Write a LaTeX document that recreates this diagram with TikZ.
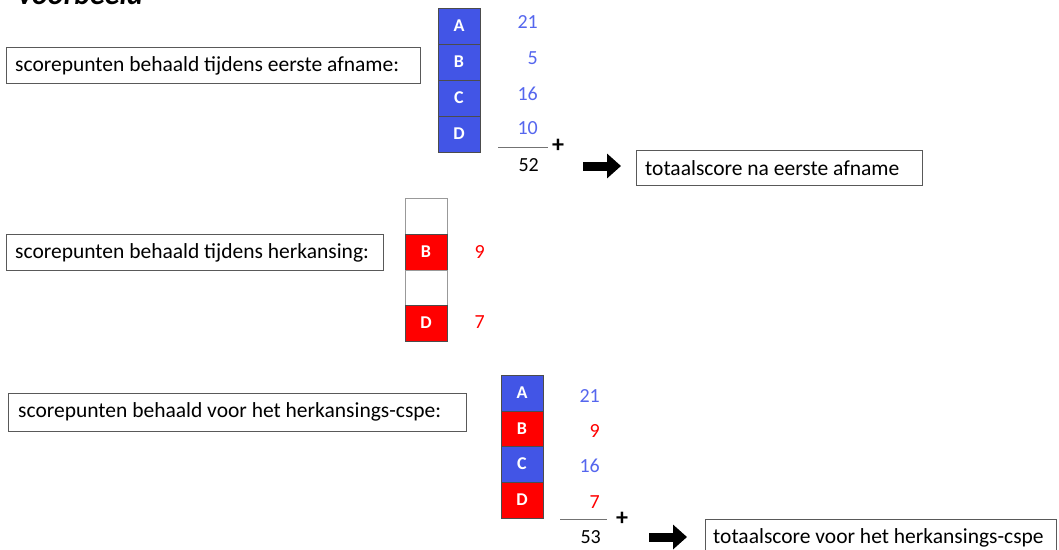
\documentclass[tikz,border=0pt]{standalone}
\usepackage{fontspec}
\setmainfont{Carlito}
\usetikzlibrary{arrows.meta}
\definecolor{cellblue}{HTML}{4255E6}
\definecolor{numblue}{HTML}{5566EE}
\definecolor{cellred}{HTML}{FF0000}
\begin{document}
\begin{tikzpicture}[x=1pt,y=-1pt,
  txt/.style={font=\fontsize{21.5}{24}\selectfont},
  box/.style={draw=black!65, line width=0.9pt, inner sep=0pt, txt},
  boxtext/.style={anchor=west, inner sep=0pt, txt},
  cell/.style={minimum width=42pt, minimum height=36pt, inner sep=0pt, draw=black!70, line width=0.8pt, text=white, font=\bfseries\fontsize{18}{18}\selectfont},
  bluecell/.style={cell, fill=cellblue},
  redcell/.style={cell, fill=cellred},
  emptycell/.style={cell, fill=white, draw=black!40},
  num/.style={anchor=east, inner sep=0pt, font=\fontsize{20}{22}\selectfont},
  plus/.style={inner sep=0pt, font=\bfseries\fontsize{24}{24}\selectfont},
  sumline/.style={draw=black!55, line width=0.8pt},
  bigarrow/.style={line width=9pt, -{Triangle[length=14pt,width=24pt]}}
]
\useasboundingbox (0,0) rectangle (1059,549);
\fill[white] (0,0) rectangle (1059,549);

% title
\node[anchor=base west, inner sep=0pt, font=\bfseries\itshape\fontsize{30}{30}\selectfont] (title) at (18,4) {voorbeeld};

% ---- section 1
\node[box, minimum width=414pt, minimum height=36pt] (b1) at (213,65) {};
\node[boxtext] (b1t) at (15,66) {scorepunten behaald tijdens eerste afname:};
\node[bluecell] (a1) at (459,26) {A};
\node[bluecell] (bb1) at (459,62) {B};
\node[bluecell] (c1) at (459,98) {C};
\node[bluecell] (d1) at (459,134) {D};
\node[num, text=numblue] (n1a) at (538,22) {21};
\node[num, text=numblue] (n1b) at (538,58) {5};
\node[num, text=numblue] (n1c) at (538,94) {16};
\node[num, text=numblue] (n1d) at (538,128) {10};
\coordinate (l1s) at (498,147);
\coordinate (l1e) at (548,147);
\draw[sumline] (l1s) -- (l1e);
\node[plus] (p1) at (558,146) {+};
\node[num] (s1) at (539,165) {52};
\coordinate (ar1s) at (583,166);
\coordinate (ar1e) at (621,166);
\draw[bigarrow] (ar1s) -- (ar1e);
\node[box, minimum width=286pt, minimum height=35pt] (t1) at (779,167.5) {};
\node[boxtext] (t1t) at (645,168) {totaalscore na eerste afname};

% ---- section 2
\node[box, minimum width=377pt, minimum height=36pt] (b2) at (194.5,252) {};
\node[boxtext] (b2t) at (15,253) {scorepunten behaald tijdens herkansing:};
\node[emptycell] (a2) at (426,216) {};
\node[redcell] (bb2) at (426,252) {B};
\node[emptycell] (c2) at (426,288) {};
\node[redcell] (d2) at (426,323) {D};
\node[num, text=cellred] (n2b) at (485,252) {9};
\node[num, text=cellred] (n2d) at (485,322) {7};

% ---- section 3
\node[box, minimum width=458pt, minimum height=38pt] (b3) at (237,412) {};
\node[boxtext] (b3t) at (18,412) {scorepunten behaald voor het herkansings-cspe:};
\node[bluecell] (a3) at (522,393) {A};
\node[redcell] (bb3) at (522,429) {B};
\node[bluecell] (c3) at (522,464) {C};
\node[redcell] (d3) at (522,500) {D};
\node[num, text=numblue] (n3a) at (600,396) {21};
\node[num, text=cellred] (n3b) at (600,431) {9};
\node[num, text=numblue] (n3c) at (600,466) {16};
\node[num, text=cellred] (n3d) at (600,502) {7};
\coordinate (l3s) at (560,519);
\coordinate (l3e) at (607,519);
\draw[sumline] (l3s) -- (l3e);
\node[plus] (p3) at (622,519) {+};
\node[num] (s3) at (601,537) {53};
\coordinate (ar3s) at (649,537);
\coordinate (ar3e) at (687,537);
\draw[bigarrow] (ar3s) -- (ar3e);
\node[box, minimum width=351pt, minimum height=44pt] (t3) at (880.5,541) {};
\node[boxtext] (t3t) at (713,538) {totaalscore voor het herkansings-cspe};
\end{tikzpicture}
\end{document}
